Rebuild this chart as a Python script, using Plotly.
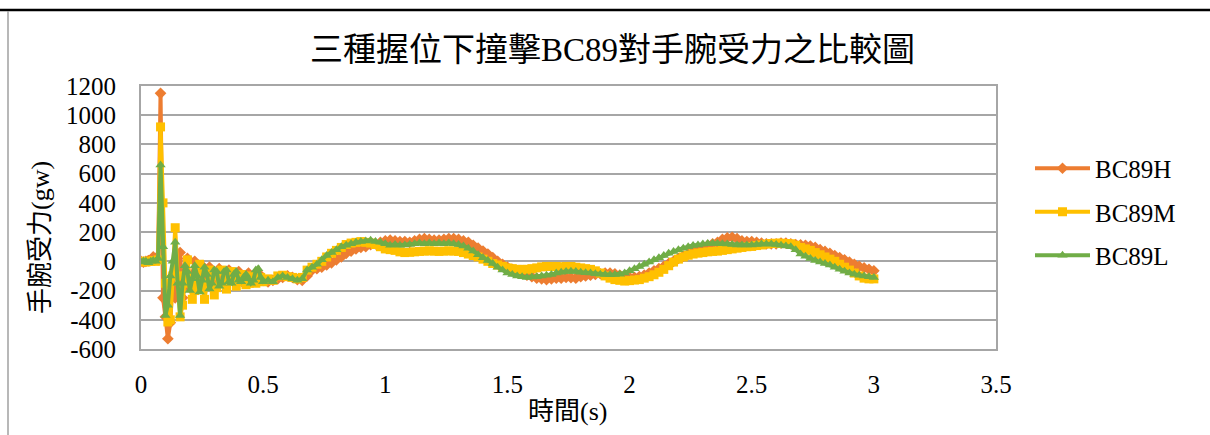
import plotly.graph_objects as go

# time axis: 0.00-0.50 s every 0.01 s, then 0.52-3.00 s every 0.02 s
t_early = [round(i * 0.01, 2) for i in range(51)]
t_late = [round(0.52 + i * 0.02, 2) for i in range(125)]
time_s = t_early + t_late

H_early = [0, -5, 0, 5, 10, 30, 20, 10,
           1150, -250, -380, -530, -420, -100, -250, -200, 60, -250,
           -150, 20, -180, -100, 0, -150, -90, -30, -120, -120,
           -40, -60, -150, -100, -50, -70, -130, -100, -60, -90,
           -140, -110, -70, -100, -150, -120, -80, -120, -140, -100,
           -80, -120, -130]
M_early = [0, 0, -5, 0, 0, 5, 0, 10,
           920, 400, -150, -415, -400, -100, 230, -100, -380, -300,
           -100, 10, -150, -260, -200, -60, -20, -150, -260, -150,
           -60, -100, -230, -180, -70, -60, -150, -190, -120, -70,
           -110, -170, -140, -90, -100, -160, -150, -100, -110, -150,
           -130, -110, -140]
L_early = [-5, 0, 0, -10, 0, 5, 0, 20,
           660, 100, -370, -300, -100, 0, 130, -150, -370, -150,
           -30, -70, -200, -120, -30, -100, -210, -130, -40, -90,
           -190, -150, -60, -70, -170, -150, -70, -60, -140, -150,
           -90, -70, -130, -140, -110, -90, -120, -150, -130, -60,
           -50, -110, -140]

H_late = [-140, -130, -120, -110, -100, -110, -125, -130, -100, -60,
          -50, -40, -25, -10, 10, 30, 55, 70, 85, 95,
          100, 115, 120, 130, 140, 145, 140, 135, 135, 130,
          140, 150, 155, 150, 145, 145, 150, 155, 155, 150,
          140, 130, 110, 90, 70, 50, 25, 0, -20, -40,
          -55, -70, -85, -95, -105, -115, -120, -125, -120, -115,
          -115, -110, -112, -115, -105, -100, -95, -90, -85, -80,
          -80, -85, -95, -105, -110, -110, -105, -95, -80, -65,
          -50, -35, -15, 0, 20, 35, 50, 65, 80, 95,
          110, 120, 130, 150, 160, 165, 155, 140, 135, 135,
          130, 125, 120, 120, 120, 125, 125, 120, 115, 112,
          110, 105, 95, 80, 68, 55, 40, 25, 10, -5,
          -20, -35, -45, -55, -65]
M_late = [-120, -130, -100, -95, -105, -110, -120, -110, -60, -40,
          -20, 0, 30, 55, 75, 95, 115, 125, 130, 135,
          130, 125, 115, 100, 85, 80, 75, 65, 60, 62,
          65, 68, 70, 72, 70, 68, 70, 72, 70, 68,
          60, 50, 40, 30, 15, 0, -15, -25, -35, -45,
          -50, -55, -55, -55, -50, -45, -38, -35, -35, -35,
          -38, -35, -35, -40, -45, -50, -55, -65, -80, -100,
          -115, -125, -130, -135, -132, -128, -125, -115, -105, -92,
          -75, -55, -30, -5, 15, 30, 42, 50, 56, 60,
          65, 68, 70, 75, 80, 85, 90, 95, 100, 102,
          108, 112, 118, 122, 124, 124, 122, 120, 110, 95,
          85, 75, 60, 45, 30, 15, 0, -20, -40, -60,
          -80, -100, -115, -120, -120]
L_late = [-130, -140, -110, -100, -110, -120, -130, -120, -60, -40,
          -20, 10, 40, 60, 80, 100, 110, 120, 130, 135,
          140, 145, 135, 130, 120, 110, 115, 110, 112, 115,
          120, 125, 120, 125, 120, 125, 120, 125, 120, 115,
          105, 90, 70, 45, 25, 5, -15, -40, -60, -80,
          -90, -100, -105, -110, -108, -105, -100, -95, -90, -80,
          -75, -70, -68, -70, -75, -78, -80, -85, -88, -90,
          -92, -90, -88, -80, -65, -50, -35, -20, -5, 10,
          25, 40, 55, 68, 80, 90, 100, 108, 112, 118,
          122, 124, 122, 120, 118, 115, 112, 112, 112, 112,
          115, 118, 118, 118, 115, 110, 105, 100, 80, 50,
          35, 20, 5, -5, -15, -25, -40, -55, -68, -80,
          -88, -95, -100, -105, -110]

force_H = H_early + H_late
force_M = M_early + M_late
force_L = L_early + L_late

series_names = ["BC89H", "BC89M", "BC89L"]
series_colors = ["#ED7D31", "#FFC000", "#70AD47"]
series_symbols = ["diamond", "square", "triangle-up"]
series_values = [force_H, force_M, force_L]

y_ticks = [-600, -400, -200, 0, 200, 400, 600, 800, 1000, 1200]
y_ticktext = ["-600", "-400", "-200", "0", "200", "400", "600", "800", "1000", "1200"]
x_ticks = [0, 0.5, 1, 1.5, 2, 2.5, 3, 3.5]
x_ticktext = ["0", "0.5", "1", "1.5", "2", "2.5", "3", "3.5"]

title_text = "三種握位下撞擊BC89對手腕受力之比較圖"
x_title = "時間(s)"
y_title = "手腕受力(gw)"

FONT = "Liberation Serif, Noto Sans CJK TC"
GRID = "#A6A6A6"

fig = go.Figure()
for name, color, sym, vals in zip(series_names, series_colors, series_symbols, series_values):
    fig.add_trace(go.Scatter(
        x=time_s, y=vals, name=name, mode="lines+markers",
        line=dict(color=color, width=4),
        marker=dict(symbol=sym, size=9, color=color, line=dict(width=0)),
        legendgroup=name,
    ))

L_M, R_M, T_M, B_M = 141, 214, 86, 86
plot_w = 1210 - L_M - R_M
plot_h = 435 - T_M - B_M


def px_to_paper_x(px):
    return (px - L_M) / plot_w


def px_to_paper_y(py):
    return (435 - B_M - py) / plot_h


fig.update_layout(
    width=1210, height=435,
    margin=dict(l=L_M, r=R_M, t=T_M, b=B_M),
    paper_bgcolor="white", plot_bgcolor="white",
    font=dict(family=FONT, size=25, color="black"),
    showlegend=True,
    legend=dict(
        x=px_to_paper_x(1030), xanchor="left",
        y=px_to_paper_y(212), yanchor="middle",
        font=dict(family=FONT, size=25, color="black"),
        tracegroupgap=8, itemwidth=55, bgcolor="rgba(0,0,0,0)",
    ),
    xaxis=dict(
        range=[0, 3.5], tickvals=x_ticks, ticktext=x_ticktext,
        showgrid=False, zeroline=False, showline=True, mirror=True,
        linecolor=GRID, linewidth=2, ticks="", ticklabelstandoff=12,
        tickfont=dict(family="Liberation Serif", size=25, color="black"),
    ),
    yaxis=dict(
        range=[-600, 1200], tickvals=y_ticks, ticktext=y_ticktext,
        showgrid=True, gridcolor=GRID, gridwidth=1.5,
        zeroline=False, showline=True, mirror=True,
        linecolor=GRID, linewidth=2, ticks="", ticklabelstandoff=18,
        tickfont=dict(family="Liberation Serif", size=25, color="black"),
    ),
    annotations=[
        dict(text=title_text, xref="paper", yref="paper",
             x=px_to_paper_x(612), y=px_to_paper_y(50),
             xanchor="center", yanchor="middle", showarrow=False,
             font=dict(family=FONT, size=33, color="black")),
        dict(text=x_title, xref="paper", yref="paper",
             x=px_to_paper_x(567), y=px_to_paper_y(411),
             xanchor="center", yanchor="middle", showarrow=False,
             font=dict(family=FONT, size=26, color="black")),
        dict(text=y_title, xref="paper", yref="paper",
             x=px_to_paper_x(40), y=px_to_paper_y(238), textangle=-90,
             xanchor="center", yanchor="middle", showarrow=False,
             font=dict(family=FONT, size=26, color="black")),
    ],
)

# document/table borders framing the chart
fig.add_shape(type="line", xref="paper", yref="paper",
              x0=px_to_paper_x(0), x1=px_to_paper_x(1210),
              y0=px_to_paper_y(10), y1=px_to_paper_y(10),
              line=dict(color="black", width=2.5))
fig.add_shape(type="line", xref="paper", yref="paper",
              x0=px_to_paper_x(8), x1=px_to_paper_x(8),
              y0=px_to_paper_y(11), y1=px_to_paper_y(435),
              line=dict(color="#A0A0A0", width=1.5))

fig.write_html("out.html")
